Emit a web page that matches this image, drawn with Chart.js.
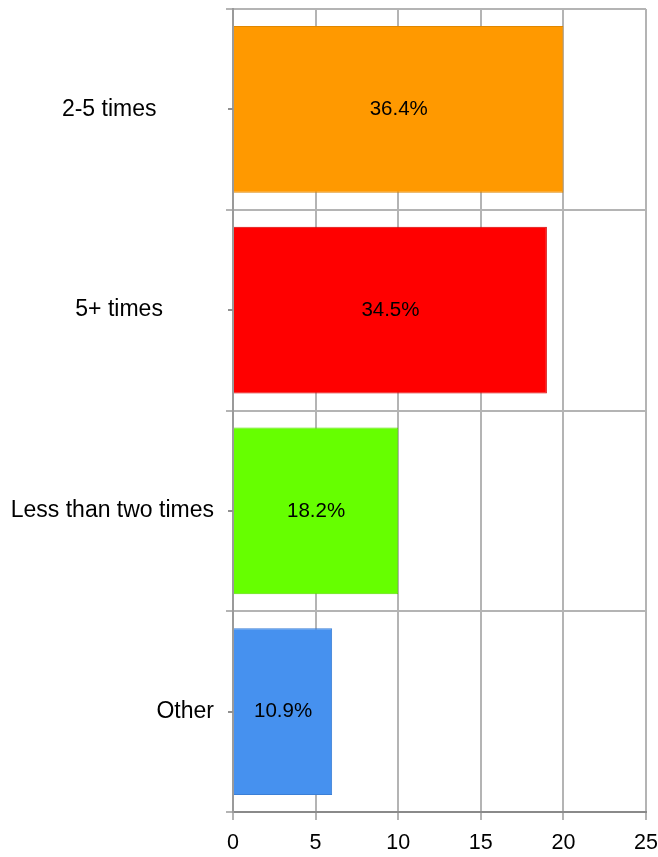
<!DOCTYPE html>
<html>
<head>
<meta charset="utf-8">
<script src="https://cdn.jsdelivr.net/npm/chart.js@4"></script>
<style>
  html, body { margin: 0; padding: 0; background: #fff; }
  #wrap { width: 658px; height: 857px; }
</style>
</head>
<body>
<div id="wrap"><canvas id="chart" width="658" height="857"></canvas></div>
<script>
// answers per category (trailing spaces keep the original label spacing)
const categories = ['2-5 times         ', '5+ times        ', 'Less than two times', 'Other'];
const counts     = [20, 19, 10, 6];
const pctLabels  = ['36.4%', '34.5%', '18.2%', '10.9%'];
const xTicks     = [0, 5, 10, 15, 20, 25];

const fills   = ['#ff9900', '#ff0000', '#66ff00', '#4691ef'];
const borders = ['#e08700', '#d40000', '#5bdc00', '#3b7fd6'];

const FONT = '"Liberation Sans", Arial, sans-serif';

// percentage text in the middle of each bar
const barText = {
  id: 'barText',
  afterDatasetsDraw(chart) {
    const ctx = chart.ctx;
    const meta = chart.getDatasetMeta(0);
    ctx.save();
    ctx.font = '20.5px ' + FONT;
    ctx.fillStyle = '#000';
    ctx.textAlign = 'center';
    ctx.textBaseline = 'middle';
    meta.data.forEach((bar, i) => {
      ctx.fillText(pctLabels[i], (bar.x + bar.base) / 2, bar.y);
    });
    ctx.restore();
  }
};

// short ticks next to each category label
const midTicks = {
  id: 'midTicks',
  afterDraw(chart) {
    const ctx = chart.ctx;
    const y = chart.scales.y;
    const x0 = chart.chartArea.left;
    ctx.save();
    ctx.strokeStyle = '#909090';
    ctx.lineWidth = 2;
    categories.forEach((c, i) => {
      const py = Math.round(y.getPixelForValue(i));
      ctx.beginPath();
      ctx.moveTo(x0 - 5, py);
      ctx.lineTo(x0, py);
      ctx.stroke();
    });
    ctx.restore();
  }
};

new Chart(document.getElementById('chart'), {
  type: 'bar',
  data: {
    labels: categories,
    datasets: [{
      data: counts,
      backgroundColor: fills,
      borderColor: borders,
      borderWidth: 1,
      barPercentage: 0.83,
      categoryPercentage: 1
    }]
  },
  options: {
    indexAxis: 'y',
    responsive: false,
    animation: false,
    layout: { padding: { top: 9, right: 12, left: 0, bottom: 0 } },
    plugins: { legend: { display: false }, tooltip: { enabled: false } },
    scales: {
      x: {
        min: 0, max: 25,
        afterBuildTicks: s => { s.ticks = xTicks.map(v => ({ value: v })); },
        afterFit: s => { s.height = 45; s.paddingLeft = 0; s.paddingRight = 0; },
        grid: { color: '#b4b4b4', lineWidth: 2, tickLength: 8, drawTicks: true },
        border: { color: '#8a8a8a', width: 2 },
        ticks: { color: '#000', padding: 10, maxRotation: 0, autoSkip: false, font: { family: FONT, size: 21.5 } }
      },
      y: {
        offset: true,
        afterFit: s => { s.width = 233; s.paddingTop = 0; s.paddingBottom = 0; },
        grid: { offset: true, color: '#b4b4b4', lineWidth: 2, tickLength: 7 },
        border: { color: '#9a9a9a', width: 2 },
        ticks: { color: '#000', padding: 12, font: { family: FONT, size: 23 } }
      }
    }
  },
  plugins: [barText, midTicks]
});
</script>
</body>
</html>
